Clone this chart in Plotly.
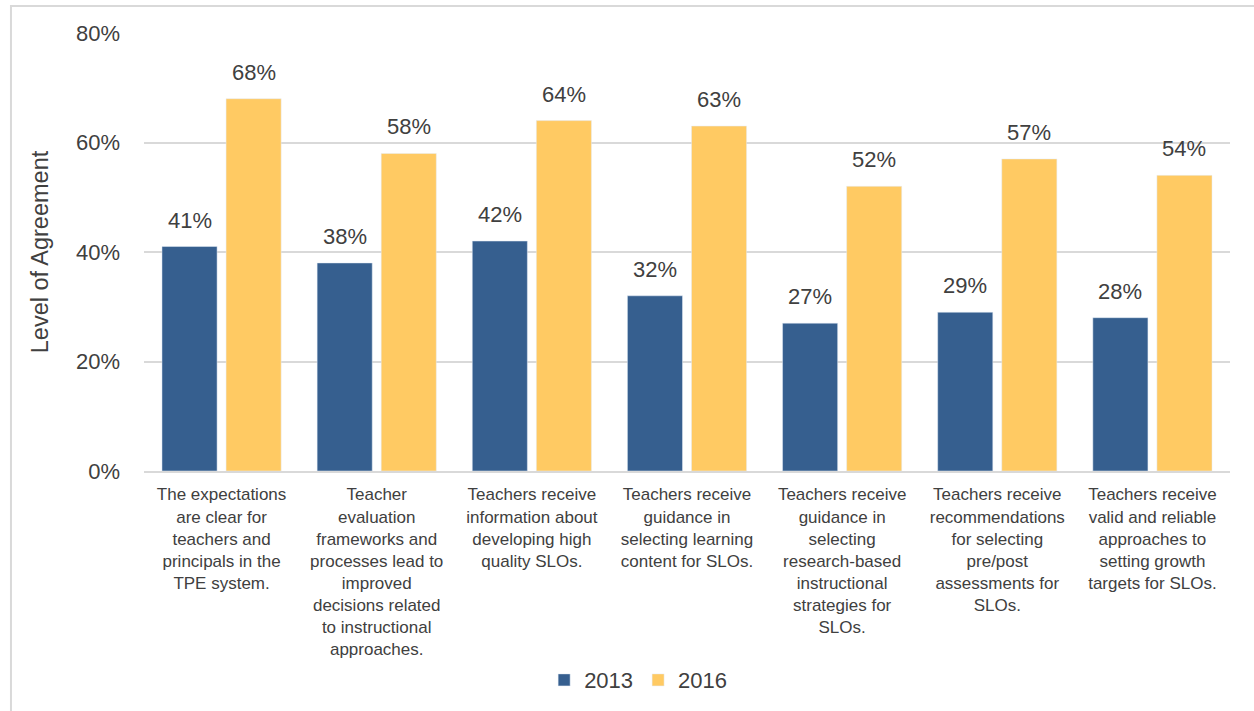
import plotly.graph_objects as go

# Survey items (category labels, wrapped as shown on the axis)
categories = [
    "The expectations<br>are clear for<br>teachers and<br>principals in the<br>TPE system.",
    "Teacher<br>evaluation<br>frameworks and<br>processes lead to<br>improved<br>decisions related<br>to instructional<br>approaches.",
    "Teachers receive<br>information about<br>developing high<br>quality SLOs.",
    "Teachers receive<br>guidance in<br>selecting learning<br>content for SLOs.",
    "Teachers receive<br>guidance in<br>selecting<br>research-based<br>instructional<br>strategies for<br>SLOs.",
    "Teachers receive<br>recommendations<br>for selecting<br>pre/post<br>assessments for<br>SLOs.",
    "Teachers receive<br>valid and reliable<br>approaches to<br>setting growth<br>targets for SLOs.",
]

# Level of agreement (share of respondents)
agree_2013 = [0.41, 0.38, 0.42, 0.32, 0.27, 0.29, 0.28]
agree_2016 = [0.68, 0.58, 0.64, 0.63, 0.52, 0.57, 0.54]

y_ticks = [0, 0.2, 0.4, 0.6, 0.8]

FONT = "Liberation Sans, Arial, Helvetica, sans-serif"
TEXT = "#404040"
BLUE = "#365F8F"
GOLD = "#FFCA63"
GRID = "#D9D9D9"

fig = go.Figure()
fig.add_trace(go.Bar(name="2013", x=categories, y=agree_2013, marker_color=BLUE))
fig.add_trace(go.Bar(name="2016", x=categories, y=agree_2016, marker_color=GOLD))

# value labels above each bar
for series, shift in ((agree_2013, -32), (agree_2016, 32)):
    for cat, val in zip(categories, series):
        fig.add_annotation(
            x=cat, y=val, text=f"{val:.0%}", showarrow=False,
            xshift=shift, yshift=12, yanchor="bottom",
            font=dict(family=FONT, size=22, color=TEXT),
        )

# light frame around the chart
fig.add_shape(
    type="rect", xref="paper", yref="paper",
    x0=-0.1225, x1=1.05, y0=-1.5, y1=1.0615,
    line=dict(color=GRID, width=2), fillcolor="rgba(0,0,0,0)", layer="below",
)

fig.update_layout(
    width=1254, height=711,
    margin=dict(l=144, r=24, t=33, b=239),
    paper_bgcolor="white", plot_bgcolor="white",
    barmode="group", bargap=0.174, bargroupgap=0.14,
    font=dict(family=FONT, color=TEXT),
    showlegend=True,
    legend=dict(
        orientation="h", x=0.455, y=-0.474, xanchor="center", yanchor="middle",
        font=dict(family=FONT, size=22, color=TEXT),
        itemwidth=30, traceorder="normal",
    ),
    xaxis=dict(
        showline=True, linecolor=GRID, linewidth=2,
        tickfont=dict(family=FONT, size=17, color=TEXT),
        tickangle=0, ticklabelstandoff=7,
    ),
    yaxis=dict(
        range=[0, 0.8], tickvals=y_ticks, tickformat=".0%",
        showgrid=True, gridcolor=GRID, gridwidth=2, zeroline=False,
        tickfont=dict(family=FONT, size=22, color=TEXT),
        ticklabelstandoff=23,
        title=dict(text="Level of Agreement", standoff=20,
                   font=dict(family=FONT, size=23.5, color=TEXT)),
    ),
)

fig.write_html("out.html")
